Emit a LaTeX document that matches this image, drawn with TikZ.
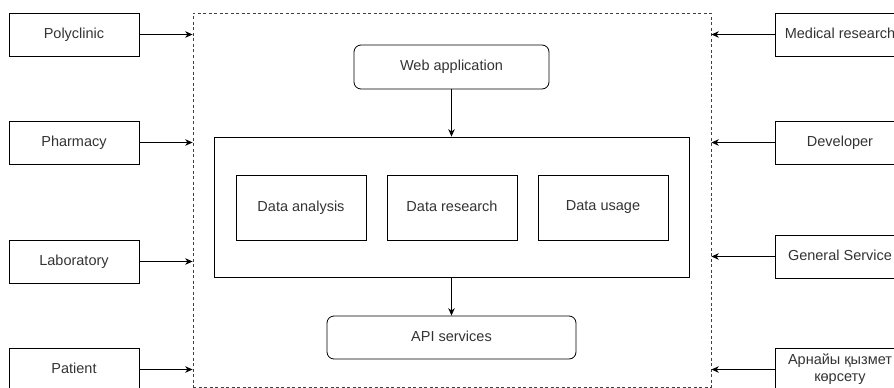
\documentclass[tikz,border=0pt]{standalone}
\usepackage{fontspec}
\setmainfont{Liberation Sans}
\usetikzlibrary{arrows.meta}

\tikzset{
    unit/.style={
        draw,
        line width=0.8pt,
        minimum width=130pt,
        minimum height=43pt,
        inner sep=2pt,
        text=black!80,
        font=\fontsize{14.5}{17}\selectfont,
        execute at begin node=\vphantom{Ay}
    },
    appbox/.style={
        unit,
        rounded corners=7pt
    },
    flow/.style={
        line width=0.8pt,
        -{Stealth[length=7.5pt,width=6.5pt]}
    }
}

\begin{document}
\begin{tikzpicture}[x=1pt,y=-1pt]
            \clip (0,0) rectangle (894,388);

            \node[
                draw=black!75,
                dash pattern=on 3pt off 2.5pt,
                line width=0.8pt,
                minimum width=518pt,
                minimum height=374pt,
                name=frame
            ] at (452,200) {};

            \node[appbox, minimum width=195pt, minimum height=44pt, name=web] at (451.5,67) {Web application};

            \node[
                draw,
                line width=0.8pt,
                minimum width=475pt,
                minimum height=140pt,
                name=core
            ] at (451.5,207) {};

            \node[unit, minimum height=65pt, name=analysis] at (301,207.5) {Data analysis};
            \node[unit, minimum height=65pt, name=research] at (452,207.5) {Data research};
            \node[unit, minimum height=65pt, name=usage] at (603,207.5) {Data usage};

            \node[appbox, minimum width=249pt, name=api] at (451.5,337.5) {API services};

            \draw[flow] (web) -- (core);
            \draw[flow] (core) -- (api);

            \node[unit, name=poly] at (74,34.5) {Polyclinic};
            \node[unit, name=pharm] at (74,142.5) {Pharmacy};
            \node[unit, name=lab] at (74,261.5) {Laboratory};
            \node[unit, name=patient] at (74,369.5) {Patient};

            \draw[flow] (poly) -- (poly -| frame.west);
            \draw[flow] (pharm) -- (pharm -| frame.west);
            \draw[flow] (lab) -- (lab -| frame.west);
            \draw[flow] (patient) -- (patient -| frame.west);

            \node[unit, name=medres] at (840,34.5) {Medical research};
            \node[unit, name=dev] at (840,142.5) {Developer};
            \node[unit, name=general] at (840,256.5) {General Service};
            \node[unit, align=center, name=special] at (840,369.5) {Арнайы қызмет\\көрсету};

            \draw[flow] (medres) -- (medres -| frame.east);
            \draw[flow] (dev) -- (dev -| frame.east);
            \draw[flow] (general) -- (general -| frame.east);
            \draw[flow] (special) -- (special -| frame.east);
        \end{tikzpicture}
\end{document}
